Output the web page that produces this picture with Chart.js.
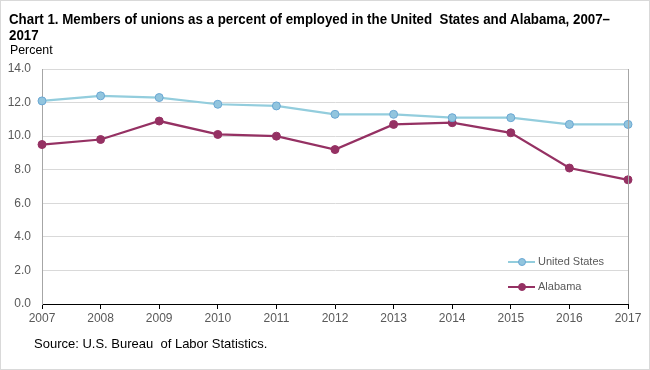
<!DOCTYPE html>
<html>
<head>
<meta charset="utf-8">
<script src="https://cdn.jsdelivr.net/npm/chart.js@4"></script>
<style>
  body { margin: 0; background: #fff; }
  #wrap { position: relative; width: 650px; height: 370px; box-sizing: border-box; border: 1px solid #d9d9d9; overflow: hidden; }
  #graf { position: absolute; left: 0; top: 0; }
  .titulo { position: absolute; left: 8px; top: 10px; font-family: "Liberation Sans", Arial, sans-serif; font-weight: bold; font-size: 14px; line-height: 16px; color: #000; transform: scaleX(0.951); transform-origin: left top; white-space: nowrap; }
  .percent { position: absolute; left: 9px; top: 41px; font-family: "Liberation Sans", Arial, sans-serif; font-size: 13px; color: #000; transform: scaleX(0.95); transform-origin: left top; }
  .fonte { position: absolute; left: 33px; top: 335px; font-family: "Liberation Sans", Arial, sans-serif; font-size: 13px; color: #000; white-space: nowrap; }
</style>
</head>
<body>
<div id="wrap">
  <canvas id="graf" width="650" height="370"></canvas>
  <div class="titulo">Chart 1. Members of unions as a percent of employed in the United&nbsp; States and Alabama, 2007–<br>2017</div>
  <div class="percent">Percent</div>
  <div class="fonte">Source: U.S. Bureau&nbsp; of Labor Statistics.</div>
</div>
<script>
const anos = ["2007","2008","2009","2010","2011","2012","2013","2014","2015","2016","2017"]
const estadosUnidos = [12.1, 12.4, 12.3, 11.9, 11.8, 11.3, 11.3, 11.1, 11.1, 10.7, 10.7]
const alabama = [9.5, 9.8, 10.9, 10.1, 10.0, 9.2, 10.7, 10.8, 10.2, 8.1, 7.4]
const nomesSeries = ["United States", "Alabama"]

const corUS = '#93cddd'
const corAL = '#953163'

// legenda dentro da area do grafico + linha da direita
const extras = {
    id: 'extras',
    afterDraw(chart) {
        const ctx = chart.ctx
        const area = chart.chartArea
        ctx.save()
        ctx.strokeStyle = '#a6a6a6'
        ctx.lineWidth = 1
        ctx.beginPath()
        ctx.moveTo(area.right + 0.5, area.top)
        ctx.lineTo(area.right + 0.5, area.bottom)
        ctx.stroke()

        const linhas = [261, 286]
        chart.data.datasets.forEach((ds, i) => {
            const y = linhas[i]
            const x0 = 507
            ctx.strokeStyle = ds.borderColor
            ctx.lineWidth = 2
            ctx.beginPath()
            ctx.moveTo(x0, y)
            ctx.lineTo(x0 + 27, y)
            ctx.stroke()
            ctx.beginPath()
            ctx.arc(x0 + 14, y, 3.5, 0, Math.PI * 2)
            ctx.fillStyle = ds.pointBackgroundColor
            ctx.fill()
            ctx.lineWidth = 1
            ctx.strokeStyle = ds.pointBorderColor
            ctx.stroke()
            ctx.fillStyle = '#595959'
            ctx.font = '11px "Liberation Sans", Arial, sans-serif'
            ctx.textBaseline = 'middle'
            ctx.fillText(ds.label, x0 + 30, y)
        })
        ctx.restore()
    }
}

new Chart(document.getElementById("graf"), {
    type: 'line',
    data: {
        labels: anos,
        datasets: [
            {
                label: nomesSeries[0],
                data: estadosUnidos,
                borderColor: corUS,
                borderWidth: 2.25,
                pointBackgroundColor: '#92c5de',
                pointBorderColor: '#6aa7d3',
                pointBorderWidth: 1,
                pointRadius: 4,
                tension: 0
            },
            {
                label: nomesSeries[1],
                data: alabama,
                borderColor: corAL,
                borderWidth: 2.25,
                pointBackgroundColor: corAL,
                pointBorderColor: corAL,
                pointBorderWidth: 1,
                pointRadius: 4,
                tension: 0
            }
        ]
    },
    options: {
        responsive: false,
        animation: false,
        layout: {
            padding: { left: 0, right: 23, top: 68, bottom: 0 }
        },
        plugins: {
            legend: { display: false },
            tooltip: { enabled: false }
        },
        scales: {
            x: {
                offset: false,
                afterFit: (scale) => { scale.height = 67 },
                grid: {
                    drawOnChartArea: false,
                    drawTicks: true,
                    tickLength: 5,
                    color: '#000'
                },
                border: { color: '#000', width: 1 },
                ticks: {
                    color: '#595959',
                    font: { family: '"Liberation Sans", Arial, sans-serif', size: 12 },
                    maxRotation: 0,
                    padding: 2
                }
            },
            y: {
                min: 0,
                max: 14,
                afterFit: (scale) => { scale.width = 41 },
                grid: {
                    color: '#d9d9d9',
                    drawTicks: false
                },
                border: { color: '#a6a6a6', width: 1 },
                ticks: {
                    stepSize: 2,
                    color: '#595959',
                    padding: 11,
                    font: { family: '"Liberation Sans", Arial, sans-serif', size: 12 },
                    callback: (v) => v.toFixed(1)
                }
            }
        }
    },
    plugins: [extras]
})
</script>
</body>
</html>
